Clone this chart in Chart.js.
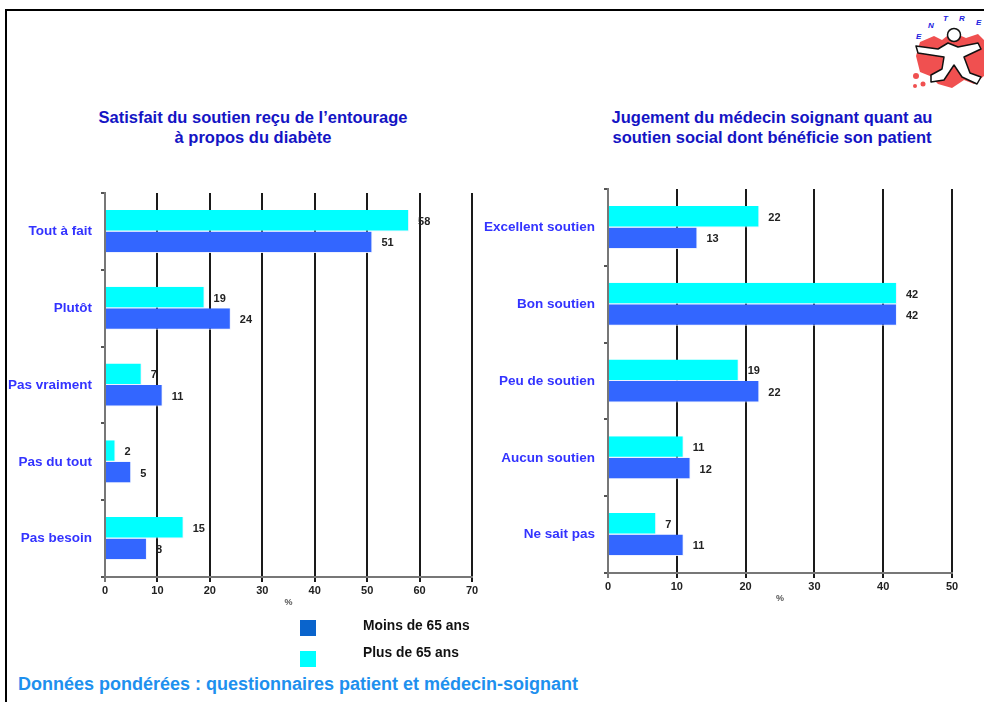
<!DOCTYPE html>
<html lang="fr">
<head>
<meta charset="utf-8">
<title>Soutien social</title>
<script src="https://cdn.jsdelivr.net/npm/chart.js@4"></script>
<style>
  html, body { margin: 0; padding: 0; background: #fff; }
  body { width: 984px; height: 702px; position: relative; overflow: hidden;
         font-family: "Liberation Sans", Arial, sans-serif; }
  .frame-top { position: absolute; left: 5px; top: 9px; width: 979px; height: 2px; background: #000; }
  .frame-left { position: absolute; left: 5px; top: 9px; width: 2px; height: 693px; background: #000; }
  .title { position: absolute; font-weight: bold; font-size: 16.5px; line-height: 20px;
           color: #1414c4; text-align: center; white-space: nowrap; }
  .box { position: absolute; width: 490px; height: 444px; }
  .legend-sq { position: absolute; left: 300px; width: 16px; height: 16px; }
  .legend-txt { position: absolute; left: 363px; font-weight: bold; font-size: 13.8px; color: #111; }
  .footer { position: absolute; left: 18px; top: 674px; font-weight: bold; font-size: 18px;
            color: #1e90ee; white-space: nowrap; }
  .logo { position: absolute; left: 908px; top: 12px; }
</style>
</head>
<body>
<div class="frame-top"></div>
<div class="frame-left"></div>

<svg class="logo" width="76" height="78" viewBox="0 0 76 78">
  <path d="M12 30 L26 24 L34 28 L44 20 L58 26 L70 22 L76 28 L76 64 L66 72 L56 68 L44 76 L30 72 L22 64 L12 60 L8 44 Z" fill="#f05050"/>
  <circle cx="8" cy="64" r="3" fill="#f05050"/>
  <circle cx="15" cy="72" r="2.5" fill="#f05050"/>
  <circle cx="7" cy="74" r="2" fill="#f05050"/>
  <path d="M8 34 L30 37 L40 31 L50 35 L70 31 L73 37 L56 45 L62 61 L73 65 L69 72 L54 65 L46 53 L36 68 L23 70 L23 63 L34 57 L36 45 L10 41 Z"
        fill="#fff" stroke="#111" stroke-width="1.5" stroke-linejoin="round"/>
  <circle cx="46" cy="23" r="6.5" fill="#fff" stroke="#111" stroke-width="1.5"/>
  <g font-family="Liberation Sans, Arial" font-style="italic" font-weight="bold" font-size="8" fill="#2020e0">
    <text x="8" y="27">E</text>
    <text x="20" y="16">N</text>
    <text x="35" y="9">T</text>
    <text x="51" y="9">R</text>
    <text x="68" y="13">E</text>
  </g>
</svg>

<div class="title" style="left:73px; top:107px; width:360px;">Satisfait du soutien reçu de l’entourage<br>à propos du diabète</div>
<div class="title" style="left:592px; top:107px; width:360px;">Jugement du médecin soignant quant au<br>soutien social dont bénéficie son patient</div>

<div class="box" style="left:0; top:176px;"><canvas id="entourageChart" width="490" height="444"></canvas></div>
<div class="box" style="left:480px; top:172px;"><canvas id="medecinChart" width="490" height="444"></canvas></div>

<div class="legend-sq" style="top:620px; background:#0a64cc;"></div>
<div class="legend-txt" style="top:618px;">Moins de 65 ans</div>
<div class="legend-sq" style="top:651px; background:#00ffff;"></div>
<div class="legend-txt" style="top:645px;">Plus de 65 ans</div>

<div class="footer">Données pondérées : questionnaires patient et médecin-soignant</div>

<script>
  // satisfaction vis-à-vis de l'entourage (%)
  const entourageLabels = ["Tout à fait", "Plutôt", "Pas vraiment", "Pas du tout", "Pas besoin"];
  const entouragePlus65 = [58, 19, 7, 2, 15];
  const entourageMoins65 = [51, 24, 11, 5, 8];

  // avis du médecin sur le soutien social (%)
  const medecinLabels = ["Excellent soutien", "Bon soutien", "Peu de soutien", "Aucun soutien", "Ne sait pas"];
  const medecinPlus65 = [22, 42, 19, 11, 7];
  const medecinMoins65 = [13, 42, 22, 12, 11];

  const SERIES = ["Plus de 65 ans", "Moins de 65 ans"];
  const COLORS = { plus: "#00ffff", moins: "#3366ff" };
  const FONT = "'Liberation Sans', Arial, sans-serif";

  // writes the value just after the end of each bar
  const valueLabels = {
    id: "valueLabels",
    afterDatasetsDraw(chart) {
      const ctx = chart.ctx;
      ctx.save();
      ctx.font = "bold 11px " + FONT;
      ctx.fillStyle = "#222";
      ctx.textAlign = "left";
      ctx.textBaseline = "middle";
      chart.data.datasets.forEach((ds, i) => {
        chart.getDatasetMeta(i).data.forEach((bar, j) => {
          ctx.fillText(ds.data[j], bar.x + 9, bar.y + 1);
        });
      });
      ctx.restore();
    },
  };

  function barSet(label, data, color) {
    return {
      label: label,
      data: data,
      backgroundColor: color,
      borderColor: "rgba(235,240,255,0.9)",
      borderWidth: { top: 0, right: 1, bottom: 1, left: 0 },
      borderSkipped: false,
      categoryPercentage: 0.56,
      barPercentage: 1,
    };
  }

  function makeChart(id, labels, plus, moins, xMax, axisWidth) {
    return new Chart(document.getElementById(id), {
      type: "bar",
      data: {
        labels: labels,
        datasets: [
          barSet(SERIES[0], plus, COLORS.plus),
          barSet(SERIES[1], moins, COLORS.moins),
        ],
      },
      options: {
        indexAxis: "y",
        responsive: false,
        animation: false,
        layout: { padding: { top: 9, right: 18, left: 0, bottom: 0 } },
        plugins: { legend: { display: false }, tooltip: { enabled: false } },
        scales: {
          x: {
            min: 0,
            max: xMax,
            afterFit: (s) => { s.height = 43; },
            ticks: { stepSize: 10, padding: 2, color: "#222", font: { family: FONT, size: 11, weight: "bold" } },
            grid: {
              color: (c) => (c.tick && c.tick.value === 0 ? "#777" : "#1a1a1a"),
              lineWidth: 2,
              tickLength: 5,
            },
            border: { color: "#777", width: 2 },
            title: {
              display: true,
              text: "%",
              color: "#555",
              font: { family: FONT, size: 9, weight: "bold" },
              padding: { top: 2, bottom: 12 },
            },
          },
          y: {
            afterFit: (s) => { s.width = axisWidth; },
            ticks: { padding: 9, color: "#3333ff", font: { family: FONT, size: 13.5, weight: "bold" } },
            grid: { offset: true, drawOnChartArea: false, tickLength: 4, color: "#555", lineWidth: 2 },
            border: { color: "#777", width: 2 },
          },
        },
      },
      plugins: [valueLabels],
    });
  }

  makeChart("entourageChart", entourageLabels, entouragePlus65, entourageMoins65, 70, 105);
  makeChart("medecinChart", medecinLabels, medecinPlus65, medecinMoins65, 50, 128);
</script>
</body>
</html>
